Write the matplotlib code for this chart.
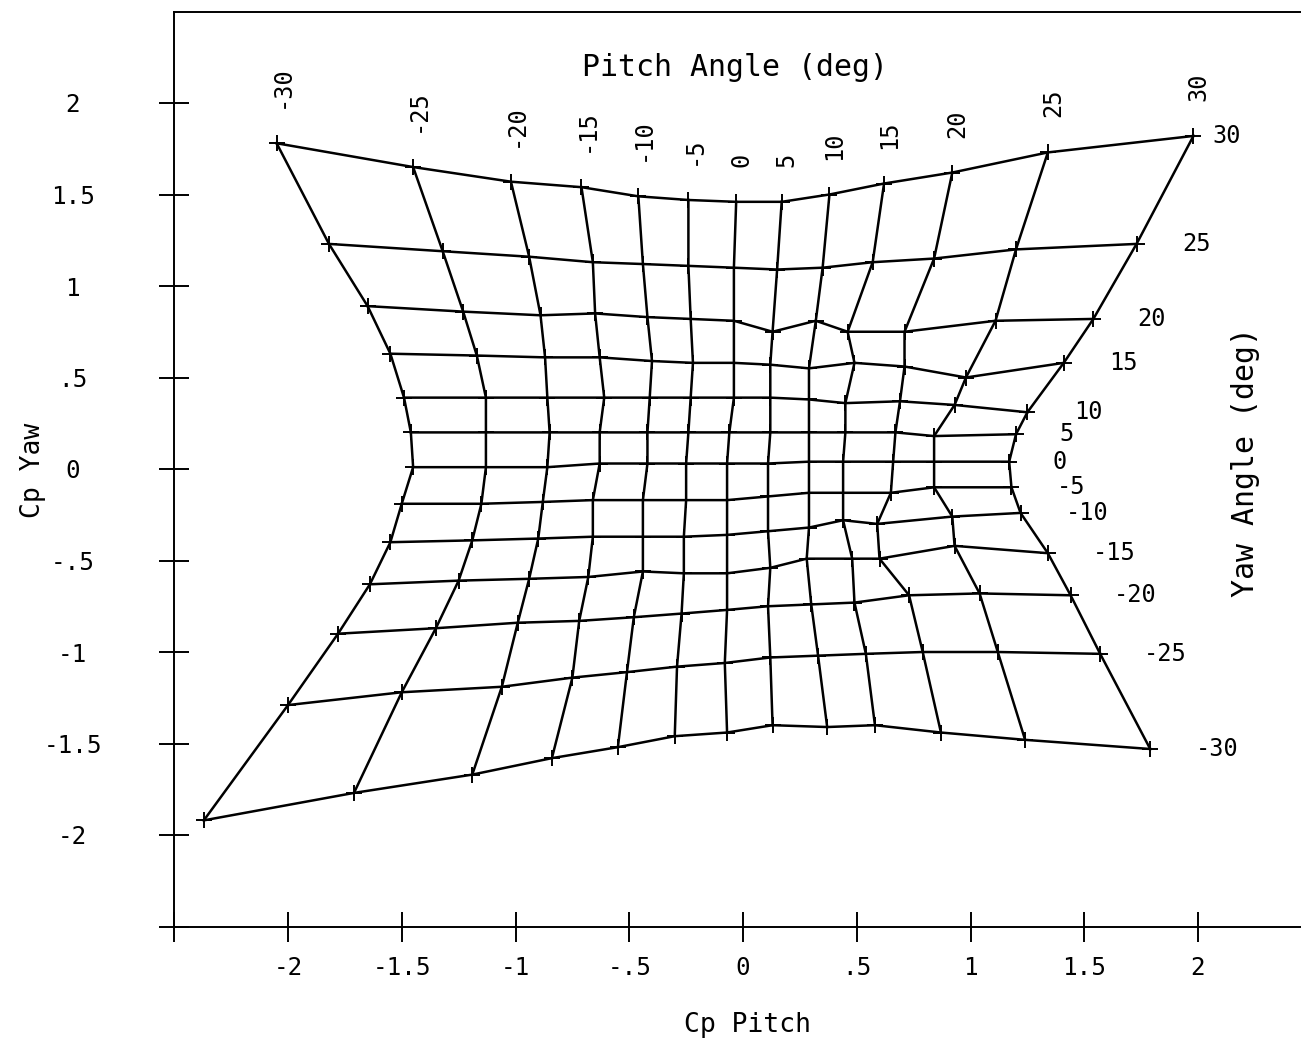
import matplotlib
matplotlib.use('Agg')
import matplotlib.pyplot as plt
import numpy as np

# calibration grid: pitch / yaw angles (deg)
pitch_deg = [-30, -25, -20, -15, -10, -5, 0, 5, 10, 15, 20, 25, 30]
yaw_deg = [-30, -25, -20, -15, -10, -5, 0, 5, 10, 15, 20, 25, 30]

# Cp pitch, one row per yaw angle (yaw -30 ... 30), columns = pitch -30 ... 30
cp_pitch = np.array([
    [-2.37, -1.71, -1.19, -0.84, -0.55, -0.30, -0.07, 0.13, 0.37, 0.58, 0.87, 1.24, 1.79],
    [-2.00, -1.50, -1.06, -0.75, -0.51, -0.29, -0.08, 0.12, 0.33, 0.54, 0.79, 1.12, 1.57],
    [-1.78, -1.35, -0.99, -0.72, -0.48, -0.27, -0.07, 0.11, 0.30, 0.49, 0.73, 1.04, 1.44],
    [-1.64, -1.25, -0.94, -0.68, -0.44, -0.26, -0.07, 0.12, 0.28, 0.48, 0.60, 0.93, 1.34],
    [-1.55, -1.19, -0.90, -0.66, -0.44, -0.26, -0.07, 0.11, 0.29, 0.44, 0.59, 0.92, 1.22],
    [-1.50, -1.15, -0.88, -0.66, -0.44, -0.25, -0.07, 0.11, 0.29, 0.44, 0.65, 0.84, 1.18],
    [-1.45, -1.13, -0.86, -0.63, -0.42, -0.25, -0.07, 0.11, 0.29, 0.44, 0.66, 0.84, 1.17],
    [-1.46, -1.13, -0.85, -0.63, -0.42, -0.24, -0.06, 0.12, 0.29, 0.45, 0.67, 0.84, 1.20],
    [-1.49, -1.13, -0.86, -0.61, -0.41, -0.23, -0.04, 0.12, 0.29, 0.45, 0.69, 0.93, 1.25],
    [-1.55, -1.17, -0.87, -0.63, -0.40, -0.22, -0.04, 0.12, 0.29, 0.49, 0.71, 0.98, 1.41],
    [-1.65, -1.23, -0.89, -0.65, -0.42, -0.23, -0.04, 0.13, 0.32, 0.46, 0.71, 1.11, 1.54],
    [-1.82, -1.32, -0.94, -0.66, -0.44, -0.24, -0.04, 0.15, 0.35, 0.57, 0.84, 1.20, 1.73],
    [-2.05, -1.45, -1.02, -0.71, -0.46, -0.24, -0.03, 0.17, 0.38, 0.62, 0.92, 1.34, 1.98],
])

# Cp yaw, same layout
cp_yaw = np.array([
    [-1.92, -1.77, -1.67, -1.58, -1.52, -1.46, -1.44, -1.40, -1.41, -1.40, -1.44, -1.48, -1.53],
    [-1.29, -1.22, -1.19, -1.14, -1.11, -1.08, -1.06, -1.03, -1.02, -1.01, -1.00, -1.00, -1.01],
    [-0.90, -0.87, -0.84, -0.83, -0.81, -0.79, -0.77, -0.75, -0.74, -0.73, -0.69, -0.68, -0.69],
    [-0.63, -0.61, -0.60, -0.59, -0.56, -0.57, -0.57, -0.54, -0.49, -0.49, -0.49, -0.42, -0.46],
    [-0.40, -0.39, -0.38, -0.37, -0.37, -0.37, -0.36, -0.34, -0.32, -0.28, -0.30, -0.26, -0.24],
    [-0.19, -0.19, -0.18, -0.17, -0.17, -0.17, -0.17, -0.15, -0.13, -0.13, -0.13, -0.10, -0.10],
    [0.01, 0.01, 0.01, 0.03, 0.03, 0.03, 0.03, 0.03, 0.04, 0.04, 0.04, 0.04, 0.04],
    [0.20, 0.20, 0.20, 0.20, 0.20, 0.20, 0.20, 0.20, 0.20, 0.20, 0.20, 0.18, 0.19],
    [0.39, 0.39, 0.39, 0.39, 0.39, 0.39, 0.39, 0.39, 0.38, 0.36, 0.37, 0.35, 0.31],
    [0.63, 0.62, 0.61, 0.61, 0.59, 0.58, 0.58, 0.57, 0.55, 0.58, 0.56, 0.50, 0.58],
    [0.89, 0.86, 0.84, 0.85, 0.83, 0.82, 0.81, 0.75, 0.81, 0.75, 0.75, 0.81, 0.82],
    [1.23, 1.19, 1.16, 1.13, 1.12, 1.11, 1.10, 1.09, 1.10, 1.13, 1.15, 1.20, 1.23],
    [1.78, 1.65, 1.57, 1.54, 1.49, 1.47, 1.46, 1.46, 1.50, 1.56, 1.62, 1.73, 1.82],
])

tick_vals = [-2, -1.5, -1, -0.5, 0, 0.5, 1, 1.5, 2]
tick_text = ['-2', '-1.5', '-1', '-.5', '0', '.5', '1', '1.5', '2']

plt.rcParams['font.family'] = ['DejaVu Sans Mono']

fig = plt.figure(figsize=(13.01, 10.49), dpi=100)
ax = fig.add_axes([174.25 / 1301, 122.5 / 1049, 1137.5 / 1301, 915 / 1049])

lw = 1.8
# constant-yaw lines
for j in range(len(yaw_deg)):
    ax.plot(cp_pitch[j], cp_yaw[j], color='black', lw=lw)
# constant-pitch lines
for i in range(len(pitch_deg)):
    ax.plot(cp_pitch[:, i], cp_yaw[:, i], color='black', lw=lw)
ax.plot(cp_pitch.ravel(), cp_yaw.ravel(), ls='none', marker='+', ms=11, mew=1.4, color='black')

# pitch angle labels above top row
top = len(yaw_deg) - 1
for i, p in enumerate(pitch_deg):
    ax.annotate(str(p), (cp_pitch[top, i], cp_yaw[top, i]), xytext=(5, 35),
                textcoords='offset pixels', rotation=90, ha='center', va='bottom',
                fontsize=17)

# yaw angle labels right of right column
yaw_dx = [46, 44, 43, 45, 45, 45, 43, 43, 47, 45, 44, 46, 19]
last = len(pitch_deg) - 1
for j, y in enumerate(yaw_deg):
    ax.annotate(str(y), (cp_pitch[j, last], cp_yaw[j, last]), xytext=(yaw_dx[j], 0),
                textcoords='offset pixels', ha='left', va='center', fontsize=17)

ax.set_xlim(-2.5, 2.5)
ax.set_ylim(-2.5, 2.5)
ax.set_xticks([-2.5] + tick_vals)
ax.set_xticklabels([''] + tick_text, fontsize=17.5)
ax.set_yticks([-2.5] + tick_vals)
ax.set_yticklabels([''] + tick_text, fontsize=17.5, ha='center')
ax.tick_params(axis='x', direction='inout', length=22, width=1.4, pad=10)
ax.tick_params(axis='y', direction='inout', length=22, width=1.4, pad=62)
for s in ['left', 'bottom', 'top']:
    ax.spines[s].set_linewidth(1.4)
ax.spines['right'].set_visible(False)

ax.text(0.493, 0.939, 'Pitch Angle (deg)', transform=ax.transAxes, ha='center',
        va='center', fontsize=21.5)
fig.text(747 / 1301, 1 - 1025 / 1049, 'Cp Pitch', ha='center', va='center', fontsize=19)
fig.text(33 / 1301, 1 - 470 / 1049, 'Cp Yaw', ha='center', va='center', fontsize=19,
         rotation=90)
fig.text(1245 / 1301, 1 - 462 / 1049, 'Yaw Angle (deg)', ha='center', va='center',
         fontsize=21.5, rotation=90)

fig.savefig('out.png', dpi=100)
